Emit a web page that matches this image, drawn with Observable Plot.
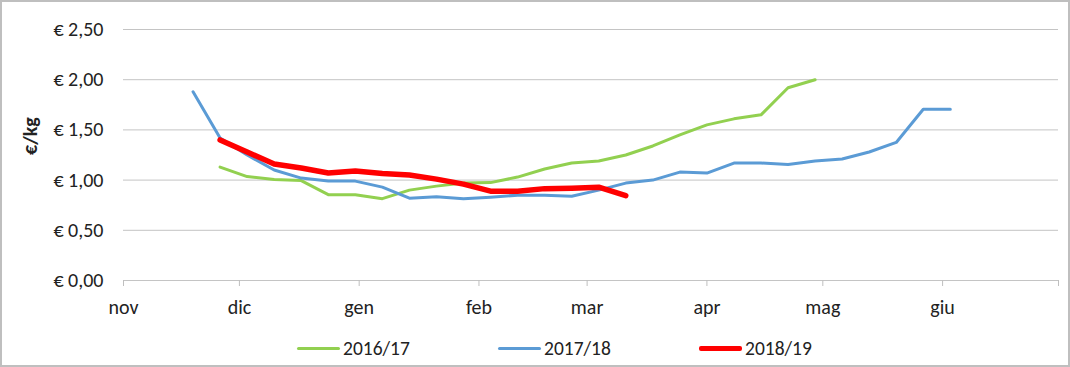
<!DOCTYPE html>
<html>
<head>
<meta charset="utf-8">
<script src="https://cdn.jsdelivr.net/npm/d3@7"></script>
<script src="https://cdn.jsdelivr.net/npm/@observablehq/plot@0.6"></script>
<style>
  html, body { margin: 0; padding: 0; background: white; }
  #wrap { position: relative; width: 1070px; height: 367px; overflow: hidden; background: white;
          font-family: Carlito, Calibri, "Liberation Sans", Arial, sans-serif; color: #222; }
  #frame { position: absolute; left: 0; top: 0; width: 1070px; height: 367px; box-sizing: border-box;
           border: 2px solid #bfbfbf; pointer-events: none; }
  #chart { position: absolute; left: 0; top: 0; }
  #legend { position: absolute; left: 297px; top: 336px; height: 24px; display: flex; align-items: center; font-size: 19.5px; }
  .item { display: flex; align-items: center; width: 201px; }
  .sw { display: inline-block; width: 43px; margin-right: 3px; border-radius: 2px; }
</style>
</head>
<body>
<div id="wrap">
  <div id="chart"></div>
  <div id="legend"></div>
  <div id="frame"></div>
</div>
<script>
// Weekly observation dates (season calendar, Nov–Jun)
const weeks = [
  "2018-11-19","2018-11-26","2018-12-03","2018-12-10","2018-12-17","2018-12-24","2018-12-31",
  "2019-01-07","2019-01-14","2019-01-21","2019-01-28","2019-02-04","2019-02-11","2019-02-18",
  "2019-02-25","2019-03-04","2019-03-11","2019-03-18","2019-03-25","2019-04-01","2019-04-08",
  "2019-04-15","2019-04-22","2019-04-29","2019-05-06","2019-05-13","2019-05-20","2019-05-27","2019-06-03"
];
const seriesNames = ["2016/17", "2017/18", "2018/19"];
const seriesColors = ["#92d050", "#5b9bd5", "#ff0000"];
const seriesWidths = [3, 3, 5.5];
const values1617 = [null, 1.13, 1.035, 1.005, 0.995, 0.855, 0.855, 0.815, 0.90, 0.94, 0.97, 0.975, 1.03, 1.11,
  1.17, 1.19, 1.25, 1.34, 1.45, 1.55, 1.61, 1.65, 1.92, 2.00, null, null, null, null, null];
const values1718 = [1.88, 1.42, 1.25, 1.10, 1.02, 0.99, 0.99, 0.93, 0.82, 0.835, 0.815, 0.83, 0.85, 0.85,
  0.84, 0.90, 0.97, 1.00, 1.08, 1.07, 1.17, 1.17, 1.155, 1.19, 1.21, 1.28, 1.375, 1.705, 1.705];
const values1819 = [null, 1.40, 1.28, 1.16, 1.12, 1.07, 1.09, 1.065, 1.05, 1.01, 0.96, 0.89, 0.89, 0.915,
  0.92, 0.93, 0.845, null, null, null, null, null, null, null, null, null, null, null, null];
const monthTicks = ["2018-11-01","2018-12-01","2019-01-01","2019-02-01","2019-03-01","2019-04-01","2019-05-01","2019-06-01","2019-07-01"];
const monthLabels = ["nov", "dic", "gen", "feb", "mar", "apr", "mag", "giu", ""];
const yTicks = [0, 0.5, 1, 1.5, 2, 2.5];
const yLabel = "€/kg";

const allValues = [values1617, values1718, values1819];
const tickDates = monthTicks.map(d => new Date(d));
const toRows = (arr) => weeks.map((w, i) => ({date: new Date(w), v: arr[i]})).filter(d => d.v != null);

const lines = allValues.map((arr, k) => Plot.line(toRows(arr), {
  x: "date", y: "v", stroke: seriesColors[k], strokeWidth: seriesWidths[k],
  strokeLinejoin: "round", strokeLinecap: "round"
}));

const chart = Plot.plot({
  width: 1070,
  height: 330,
  marginLeft: 123,
  marginRight: 12,
  marginTop: 29,
  marginBottom: 50,
  style: {background: "white", fontSize: "20px", fontFamily: 'Carlito, Calibri, "Liberation Sans", Arial, sans-serif', color: "#222"},
  x: {type: "utc", domain: [tickDates[0], tickDates[tickDates.length - 1]]},
  y: {domain: [0, 2.5]},
  marks: [
    Plot.gridY(yTicks, {stroke: "#c4c4c4", strokeOpacity: 1, strokeWidth: 1}),
    Plot.axisY({ticks: yTicks, tickSize: 0, tickPadding: 20, label: null,
      tickFormat: d => "€ " + d.toFixed(2).replace(".", ",")}),
    Plot.axisX({ticks: tickDates, tickSize: 6, tickPadding: 13, label: null, stroke: "#bfbfbf", fill: "#222",
      tickFormat: d => monthLabels[tickDates.findIndex(t => +t === +d)]}),
    Plot.text([yLabel], {frameAnchor: "left", dx: -93, rotate: -90, fontWeight: "bold", fontSize: 20, fill: "#222"}),
    ...lines
  ]
});
document.getElementById("chart").appendChild(chart);

const legend = document.getElementById("legend");
seriesNames.forEach((name, k) => {
  const item = document.createElement("div");
  item.className = "item";
  const sw = document.createElement("span");
  sw.className = "sw";
  sw.style.background = seriesColors[k];
  sw.style.height = (k === 2 ? 5 : 3) + "px";
  const lab = document.createElement("span");
  lab.textContent = name;
  item.appendChild(sw);
  item.appendChild(lab);
  legend.appendChild(item);
});
</script>
</body>
</html>
